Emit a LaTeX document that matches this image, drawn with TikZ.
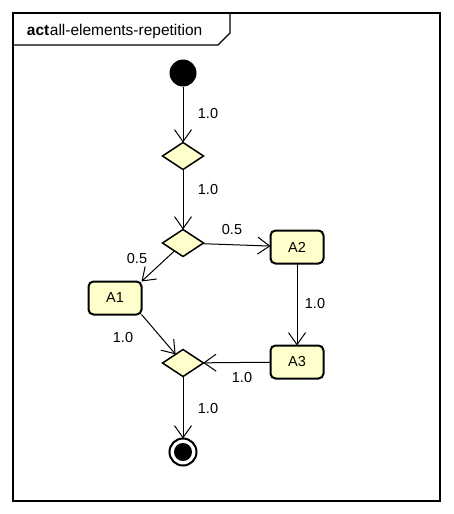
\documentclass[tikz,border=0pt]{standalone}
\usepackage{fontspec}
\setmainfont{Liberation Sans}
\usetikzlibrary{shapes.geometric,arrows.meta}
\definecolor{actfill}{HTML}{FFFFCC}
\begin{document}
\begin{tikzpicture}[x=1pt,y=-1pt,
  every node/.style={font=\fontsize{14.5}{17}\selectfont, inner sep=0pt, outer sep=0pt},
  action/.style={draw, line width=2pt, rounded corners=5pt, fill=actfill, minimum width=53pt, minimum height=33pt},
  decision/.style={draw, line width=1.5pt, diamond, aspect=1.5, fill=actfill, minimum width=41pt, minimum height=27pt},
  flow/.style={draw, line width=1pt, -{Straight Barb[length=12pt,width=17pt,line width=1pt]}}
]
\useasboundingbox (0,0) rectangle (453,514);
% frame
\draw[line width=1.2pt] (13,13) rectangle (440,501);
\draw[line width=1.2pt] (13,45) -- (218,45) -- (230,33) -- (230,13);
\node[anchor=west, font=\fontsize{15.5}{18}\selectfont] (title) at (27,31) {\textbf{act}\hspace{0.5pt}all-elements-repetition};

% nodes
\node[circle, fill=black, minimum size=27pt] (init) at (183,73) {};
\node[decision] (d1) at (183,156) {};
\node[decision] (d2) at (183,243) {};
\node[action] (a1) at (115,298) {A1};
\node[action] (a2) at (297,247) {A2};
\node[action] (a3) at (297,362) {A3};
\node[decision] (d3) at (183,363) {};
\node[circle, draw, line width=2pt, minimum size=27pt] (fin) at (183,452) {};
\node[circle, fill=black, minimum size=18pt] (finin) at (183,452) {};

% flows
\draw[flow] (init) -- (d1);
\draw[flow] (d1) -- (d2);
\draw[flow] (d2) -- (a2);
\draw[flow] (d2) -- (a1.north east);
\draw[flow] (a2) -- (a3);
\draw[flow] (a1.south east) -- (d3);
\draw[flow] (a3) -- (d3);
\draw[flow] (d3) -- (fin);

% labels
\node (l1) at (208,114) {1.0};
\node (l2) at (208,190) {1.0};
\node (l3) at (232,230) {0.5};
\node (l4) at (137,259) {0.5};
\node (l5) at (315,304) {1.0};
\node (l6) at (123,338) {1.0};
\node (l7) at (242,378) {1.0};
\node (l8) at (208,409) {1.0};
\end{tikzpicture}
\end{document}
